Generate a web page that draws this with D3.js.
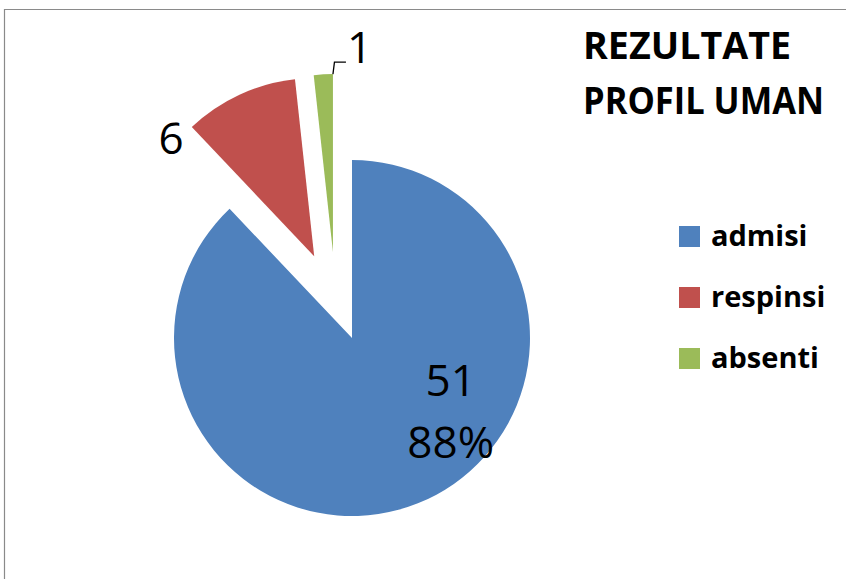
<!DOCTYPE html>
<html><head><meta charset="utf-8">
<script src="https://cdn.jsdelivr.net/npm/d3@7/dist/d3.min.js"></script>
<style>html,body{margin:0;padding:0;background:#fff;}svg{display:block;}</style>
</head><body>
<script>
const categories = ["admisi", "respinsi", "absenti"];
const values = [51, 6, 1];
const colors = ["#4F81BD", "#C0504D", "#9BBB59"];
const titleLines = ["REZULTATE", "PROFIL UMAN"];
// explode distance (px) and direction tweak (deg) per slice
const explodeDist = [0, 90, 88];
const explodeShift = [0, 0, -9.4];

const W = 846, H = 579;
const svg = d3.select("body").append("svg").attr("width", W).attr("height", H);

// frame
svg.append("path").attr("d", `M4.5,${H} V9.5 H${W}`).attr("fill","none").attr("stroke","#8a8a8a").attr("stroke-width",1.2);

const cx = 352, cy = 338, R = 178;
const total = d3.sum(values);
const pie = d3.pie().sort(null).value(d => d)(values);
const arc = d3.arc().innerRadius(0).outerRadius(R);
const g = svg.append("g").attr("transform", `translate(${cx},${cy})`);

function offset(i) {
  const a = (pie[i].startAngle + pie[i].endAngle) / 2 + explodeShift[i] * Math.PI / 180;
  return [Math.sin(a) * explodeDist[i], -Math.cos(a) * explodeDist[i]];
}

g.selectAll("path.slice").data(pie).enter().append("path")
  .attr("class","slice")
  .attr("d", arc)
  .attr("fill", (d,i) => colors[i])
  .attr("transform", (d,i) => { const o = offset(i); return `translate(${o[0]},${o[1]})`; });

const numFont = "'Open Sans', 'Liberation Sans', sans-serif";
// labels (polar placement relative to pie centre: angle deg from top, radius)
const labelPolar = [[126, 122], [-42.3, 269], null];
// admisi label
{
  const [ang, r] = labelPolar[0];
  const a = ang * Math.PI / 180;
  const lx = Math.sin(a) * r, ly = -Math.cos(a) * r;
  const t = g.append("text").attr("text-anchor","middle").attr("font-family", numFont).attr("font-size", 44).attr("fill","#000");
  t.append("tspan").attr("x", lx).attr("y", ly - 14).text(values[0]);
  t.append("tspan").attr("x", lx).attr("y", ly + 48).text(Math.round(values[0] / total * 100) + "%");
}
// respinsi label
{
  const [ang, r] = labelPolar[1];
  const a = ang * Math.PI / 180;
  const lx = Math.sin(a) * r, ly = -Math.cos(a) * r;
  g.append("text").attr("text-anchor","middle").attr("font-family", numFont).attr("font-size", 44)
    .attr("x", lx).attr("y", ly + 15).text(values[1]);
}
// absenti label with leader line
{
  const d = pie[2];
  const o = offset(2);
  const px = Math.sin(d.endAngle) * R + o[0], py = -Math.cos(d.endAngle) * R + o[1];
  g.append("path").attr("d", `M${px},${py} L${px+1.5},${py-12} H${px+13}`).attr("fill","none").attr("stroke","#000").attr("stroke-width",1.3);
  g.append("text").attr("font-family", numFont).attr("font-size", 44)
    .attr("x", px + 14).attr("y", py - 11).text(values[2]);
}

// title
const title = svg.append("text").attr("font-family", "'Open Sans', sans-serif").attr("font-weight","bold").attr("font-size", 37).attr("fill","#000");
title.append("tspan").attr("x", 583).attr("y", 59).attr("textLength", 208).attr("lengthAdjust","spacingAndGlyphs").text(titleLines[0]);
title.append("tspan").attr("x", 583).attr("y", 114).attr("textLength", 241).attr("lengthAdjust","spacingAndGlyphs").text(titleLines[1]);

// legend
const leg = svg.append("g").attr("transform","translate(679,226)");
const items = leg.selectAll("g").data(categories).enter().append("g").attr("transform",(d,i)=>`translate(0,${i*61})`);
items.append("rect").attr("width",21).attr("height",21).attr("fill",(d,i)=>colors[i]);
items.append("text").attr("x",32).attr("y",20).attr("font-family","'Open Sans', sans-serif").attr("font-weight","bold").attr("font-size",29).text(d=>d);
</script>
</body></html>
